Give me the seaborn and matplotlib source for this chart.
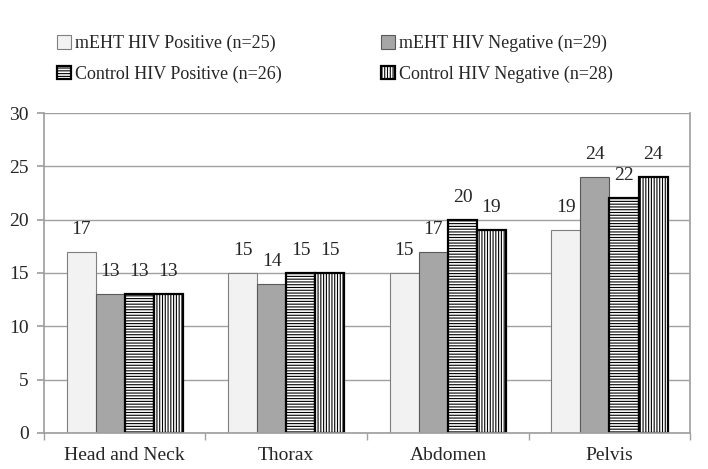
import numpy as np
import pandas as pd
import seaborn as sns
import matplotlib
from matplotlib import pyplot as plt
from matplotlib.patches import Patch

sns.set_theme(style="white")
matplotlib.rcParams.update({
    "font.family": "serif",
    "font.serif": ["Liberation Serif", "DejaVu Serif"],
    "hatch.linewidth": 0.8,
})

# data
regions = ["Head and Neck", "Thorax", "Abdomen", "Pelvis"]
series = ["mEHT HIV Positive (n=25)", "mEHT HIV Negative (n=29)",
          "Control HIV Positive (n=26)", "Control HIV Negative (n=28)"]
meht_pos = [17, 15, 15, 19]
meht_neg = [13, 14, 17, 24]
ctrl_pos = [13, 15, 20, 22]
ctrl_neg = [13, 15, 19, 24]

df = pd.DataFrame({
    "region": regions * 4,
    "group": np.repeat(series, len(regions)),
    "value": meht_pos + meht_neg + ctrl_pos + ctrl_neg,
})

faces = ["#f2f2f2", "#a6a6a6", "white", "white"]
hatches = ["", "", "------", "||||||"]
edges = ["#7f7f7f", "#5a5a5a", "black", "black"]
lws = [0.8, 0.8, 1.6, 1.6]

fig = plt.figure(figsize=(7.08, 4.69), dpi=100)
ax = fig.add_axes([0.062, 0.077, 0.913, 0.682])

sns.barplot(data=df, x="region", y="value", hue="group", hue_order=series,
            order=regions, palette=faces, width=0.72, gap=0, ax=ax,
            legend=False, saturation=1)

for i, cont in enumerate(ax.containers):
    for bar in cont:
        bar.set_hatch(hatches[i])
        bar.set_edgecolor(edges[i])
        bar.set_linewidth(lws[i])
    ax.bar_label(cont, padding=10, fontsize=14)

ax.set_ylim(0, 30)
ax.set_yticks(range(0, 31, 5))
ax.set_xlim(-0.5, 3.5)
ax.yaxis.grid(True, color="#a0a0a0", linewidth=1)
ax.set_axisbelow(True)
ax.set_xlabel("")
ax.set_ylabel("")
for s in ax.spines.values():
    s.set_color("#a0a0a0")
    s.set_visible(True)
ax.spines["top"].set_visible(False)
ax.set_xticks([-0.5, 0.5, 1.5, 2.5, 3.5], minor=True)
ax.tick_params(axis="x", which="minor", length=5, color="#a0a0a0", direction="out", bottom=True)
ax.tick_params(axis="x", which="major", length=0, labelsize=14, pad=10)
ax.tick_params(axis="y", length=5, color="#a0a0a0", direction="out", left=True, labelsize=14, pad=6)

# legend fills row by row in the reference
order = [0, 2, 1, 3]
handles = [Patch(facecolor=faces[i], edgecolor=edges[i], hatch=hatches[i],
                 linewidth=lws[i]) for i in order]
fig.legend(handles, [series[i] for i in order], loc="upper left",
           bbox_to_anchor=(0.058, 0.96), ncol=2, frameon=False, fontsize=13,
           handlelength=0.75, handleheight=0.75, handletextpad=0.25,
           columnspacing=5.5, labelspacing=0.75)

fig.savefig("out.png", dpi=100)
